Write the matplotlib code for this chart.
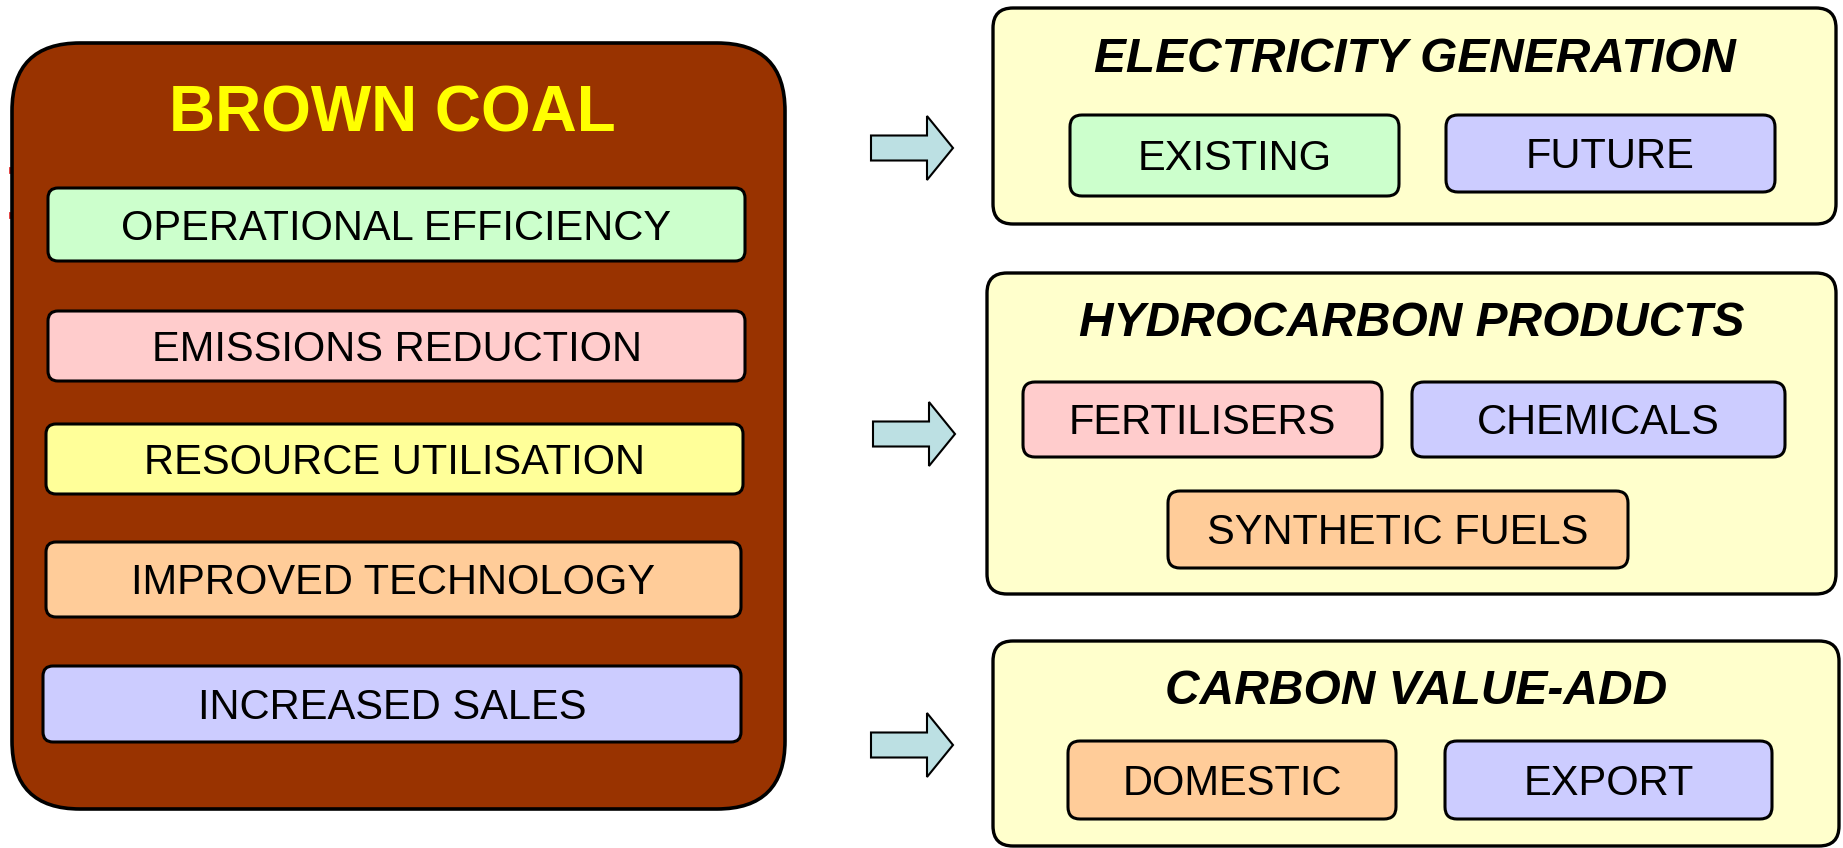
import matplotlib
matplotlib.use("Agg")
import matplotlib.pyplot as plt
from matplotlib.patches import FancyBboxPatch, Polygon

plt.rcParams['font.family'] = ['Liberation Sans', 'DejaVu Sans']

# --- content ---
main_title = "BROWN COAL"
left_labels = ["OPERATIONAL EFFICIENCY", "EMISSIONS REDUCTION", "RESOURCE UTILISATION",
               "IMPROVED TECHNOLOGY", "INCREASED SALES"]
left_colors = ["#CCFFCC", "#FFCCCC", "#FFFF99", "#FFCC99", "#CCCCFF"]

group_titles = ["ELECTRICITY GENERATION", "HYDROCARBON PRODUCTS", "CARBON VALUE-ADD"]
group_items = [["EXISTING", "FUTURE"],
               ["FERTILISERS", "CHEMICALS", "SYNTHETIC FUELS"],
               ["DOMESTIC", "EXPORT"]]
group_colors = [["#CCFFCC", "#CCCCFF"],
                ["#FFCCCC", "#CCCCFF", "#FFCC99"],
                ["#FFCC99", "#CCCCFF"]]

# --- layout (pixel coords, y down) ---
W, H = 1843, 848
brown_box = (12, 43, 785, 809)
left_boxes = [(48, 188, 745, 261), (48, 311, 745, 381), (46, 424, 743, 494),
              (46, 542, 741, 617), (43, 666, 741, 742)]
group_boxes = [(993, 8, 1836, 224), (987, 273, 1836, 594), (993, 641, 1839, 846)]
group_title_y = [59, 324, 691]
item_boxes = [[(1070, 115, 1399, 196), (1446, 115, 1775, 192)],
              [(1023, 382, 1382, 457), (1412, 382, 1785, 457), (1168, 491, 1628, 568)],
              [(1068, 741, 1396, 819), (1445, 741, 1772, 819)]]
arrows = [(871, 148), (873, 434), (871, 745)]  # left x, center y


def rbox(ax, b, fc, r, lw=2.2):
    x0, y0, x1, y1 = b
    ax.add_patch(FancyBboxPatch((x0, y0), x1 - x0, y1 - y0,
                                boxstyle=f"round,pad=0,rounding_size={r}",
                                fc=fc, ec="black", lw=lw, zorder=2))


def label(ax, b, text, size=30):
    x0, y0, x1, y1 = b
    ax.text((x0 + x1) / 2, (y0 + y1) / 2 + 4, text, ha="center", va="center",
            fontsize=size, color="black", zorder=3)


def arrow(ax, x, yc, length=82, shaft=25, head=64, head_len=26):
    xb = x + length - head_len
    pts = [(x, yc - shaft / 2), (xb, yc - shaft / 2), (xb, yc - head / 2), (x + length, yc),
           (xb, yc + head / 2), (xb, yc + shaft / 2), (x, yc + shaft / 2)]
    ax.add_patch(Polygon(pts, closed=True, fc="#BCE0E3", ec="black", lw=1.5, zorder=2))


fig = plt.figure(figsize=(W / 100, H / 100), dpi=100)
ax = fig.add_axes([0, 0, 1, 1])
ax.set_xlim(0, W)
ax.set_ylim(H, 0)
ax.axis("off")

# left brown block
rbox(ax, brown_box, "#993300", 68, lw=2.6)
ax.text((brown_box[0] + brown_box[2]) / 2 - 6, 115, main_title, ha="center", va="center",
        fontsize=46, fontweight="bold", color="#FFFF00", zorder=3)
for b, t, c in zip(left_boxes, left_labels, left_colors):
    rbox(ax, b, c, 10)
    label(ax, b, t)

# small red marks on the left edge
ax.plot([10, 10], [168, 172], color="#E03030", lw=2, zorder=1)
ax.plot([10, 10], [213, 217], color="#E03030", lw=2, zorder=1)

# arrows
for x, yc in arrows:
    arrow(ax, x, yc)

# right groups
for gb, gt, ty, items, boxes, cols in zip(group_boxes, group_titles, group_title_y,
                                          group_items, item_boxes, group_colors):
    rbox(ax, gb, "#FFFFCC", 20, lw=2.4)
    ax.text((gb[0] + gb[2]) / 2, ty, gt, ha="center", va="center", fontsize=34.5,
            fontweight="bold", fontstyle="italic", color="black", zorder=3)
    for b, t, c in zip(boxes, items, cols):
        rbox(ax, b, c, 12)
        label(ax, b, t)

fig.savefig("out.png", dpi=100)
